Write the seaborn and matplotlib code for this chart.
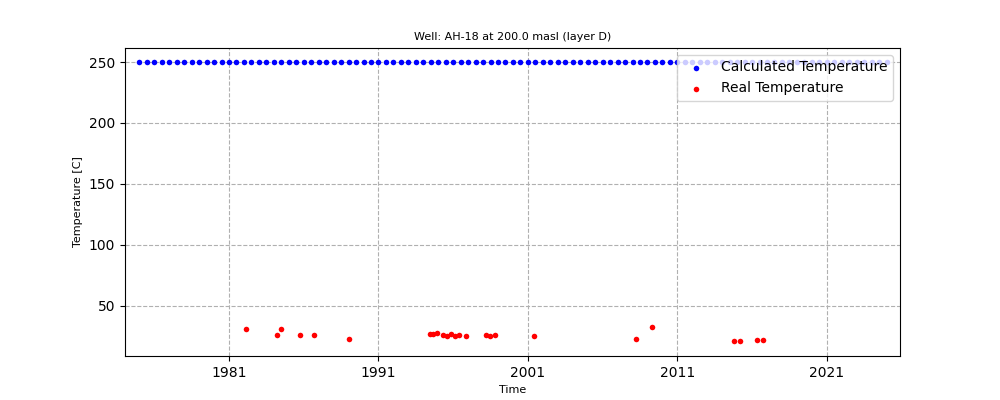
import matplotlib
matplotlib.use("Agg")
import matplotlib.pyplot as plt
import seaborn as sns
import pandas as pd

# ---- data ----
calc_time = [
    1975.0, 1975.5, 1976.0, 1976.5, 1977.0, 1977.5, 1978.0, 1978.5, 1979.0, 1979.5,
    1980.0, 1980.5, 1981.0, 1981.5, 1982.0, 1982.5, 1983.0, 1983.5, 1984.0, 1984.5,
    1985.0, 1985.5, 1986.0, 1986.5, 1987.0, 1987.5, 1988.0, 1988.5, 1989.0, 1989.5,
    1990.0, 1990.5, 1991.0, 1991.5, 1992.0, 1992.5, 1993.0, 1993.5, 1994.0, 1994.5,
    1995.0, 1995.5, 1996.0, 1996.5, 1997.0, 1997.5, 1998.0, 1998.5, 1999.0, 1999.5,
    2000.0, 2000.5, 2001.0, 2001.5, 2002.0, 2002.5, 2003.0, 2003.5, 2004.0, 2004.5,
    2005.0, 2005.5, 2006.0, 2006.5, 2007.0, 2007.5, 2008.0, 2008.5, 2009.0, 2009.5,
    2010.0, 2010.5, 2011.0, 2011.5, 2012.0, 2012.5, 2013.0, 2013.5, 2014.0, 2014.5,
    2015.0, 2015.5, 2016.0, 2016.5, 2017.0, 2017.5, 2018.0, 2018.5, 2019.0, 2019.5,
    2020.0, 2020.5, 2021.0, 2021.5, 2022.0, 2022.5, 2023.0, 2023.5, 2024.0, 2024.5,
    2025.0,
]
calc_temp = [
    250, 250, 250, 250, 250, 250, 250, 250, 250, 250,
    250, 250, 250, 250, 250, 250, 250, 250, 250, 250,
    250, 250, 250, 250, 250, 250, 250, 250, 250, 250,
    250, 250, 250, 250, 250, 250, 250, 250, 250, 250,
    250, 250, 250, 250, 250, 250, 250, 250, 250, 250,
    250, 250, 250, 250, 250, 250, 250, 250, 250, 250,
    250, 250, 250, 250, 250, 250, 250, 250, 250, 250,
    250, 250, 250, 250, 250, 250, 250, 250, 250, 250,
    250, 250, 250, 250, 250, 250, 250, 250, 250, 250,
    250, 250, 250, 250, 250, 250, 250, 250, 250, 250,
    250,
]
real_time = [
    1982.14, 1984.2, 1984.5, 1985.75, 1986.7, 1989.06,
    1994.45, 1994.67, 1994.93, 1995.29, 1995.6, 1995.83, 1996.14, 1996.4, 1996.87,
    1998.19, 1998.48, 1998.82, 2001.4,
    2008.26, 2009.33, 2014.76, 2015.16, 2016.3, 2016.7,
]
real_temp = [
    30.6, 25.7, 30.6, 25.7, 25.7, 22.4,
    27.0, 27.0, 27.6, 25.9, 24.9, 26.5, 25.3, 25.9, 24.9,
    25.9, 24.9, 25.9, 24.9,
    22.4, 32.3, 20.7, 20.7, 21.6, 21.6,
]
tick_years = [1981, 1991, 2001, 2011, 2021]
tick_labels = ["1981", "1991", "2001", "2011", "2021"]

title = "Well: AH-18 at 200.0 masl (layer D)"

calc_df = pd.DataFrame({"time": calc_time, "temp": calc_temp})
real_df = pd.DataFrame({"time": real_time, "temp": real_temp})

plt.rcParams["font.family"] = ["DejaVu Sans"]
fig, ax = plt.subplots(figsize=(10, 4), dpi=100)

sns.scatterplot(data=calc_df, x="time", y="temp", ax=ax, color="blue",
                s=16, linewidth=0, label="Calculated Temperature")
sns.scatterplot(data=real_df, x="time", y="temp", ax=ax, color="red",
                s=16, linewidth=0, label="Real Temperature")

ax.set_xlim(1974.04, 2025.9)
ax.set_ylim(8.8, 261.5)
ax.set_yticks([50, 100, 150, 200, 250])
ax.set_xticks(tick_years)
ax.set_xticklabels(tick_labels)
ax.grid(True, linestyle="--", color="#b0b0b0", linewidth=0.8)
ax.set_axisbelow(True)
ax.tick_params(labelsize=10)
ax.set_title(title, fontsize=8)
ax.set_xlabel("Time", fontsize=8)
ax.set_ylabel("Temperature [C]", fontsize=8)
ax.legend(loc="upper right", fontsize=10, scatterpoints=1)

fig.subplots_adjust(left=0.125, right=0.9, bottom=0.11, top=0.88)
fig.savefig("out.png", dpi=100)
